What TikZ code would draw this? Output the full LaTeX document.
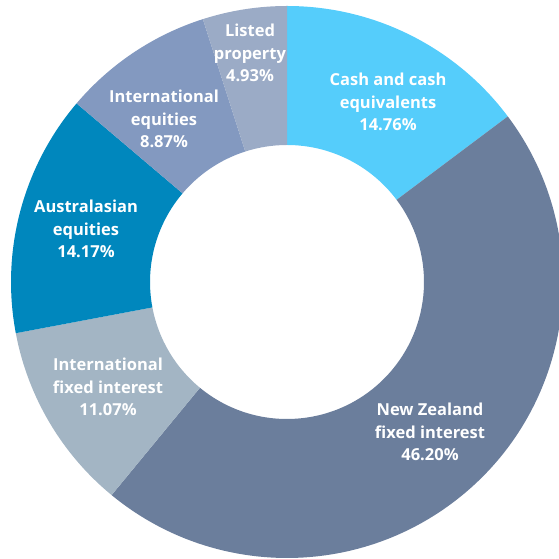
\documentclass[tikz,border=0pt]{standalone}
\usepackage{fontspec}
\setmainfont{Open Sans}[BoldFont={Open Sans Bold}]
\definecolor{cashc}{HTML}{55CDFB}
\definecolor{nzc}{HTML}{6B7E9C}
\definecolor{ifc}{HTML}{A3B5C4}
\definecolor{auc}{HTML}{0087BD}
\definecolor{iec}{HTML}{8399C0}
\definecolor{lpc}{HTML}{9BABC6}
\newcommand\donutseg[3]{\fill[#3] ([shift={(c)}]#1:276) arc[start angle=#1,end angle=#2,radius=276] -- ([shift={(c)}]#2:137) arc[start angle=#2,end angle=#1,radius=137] -- cycle;}
\begin{document}
\begin{tikzpicture}[x=1pt,y=1pt,
  lbl/.style={text=white,font=\fontsize{16.5}{22.8}\selectfont\bfseries,align=center,inner sep=0pt}]
\useasboundingbox (0,0) rectangle (559,559);
\clip (0,0) rectangle (559,559);
\coordinate (c) at (287,277);
\donutseg{90}{36.864}{cashc}
\donutseg{36.864}{-129.456}{nzc}
\donutseg{-129.456}{-169.308}{ifc}
\donutseg{-169.308}{-220.32}{auc}
\donutseg{-220.32}{-252.252}{iec}
\donutseg{-252.252}{-270}{lpc}
\node[lbl] (cash) at (388,457) {Cash and cash\\equivalents\\14.76\%};
\node[lbl] (nz) at (430,127) {New Zealand\\fixed interest\\46.20\%};
\node[lbl] (intfix) at (108,172) {International\\fixed interest\\11.07\%};
\node[lbl] (aus) at (86,330) {Australasian\\equities\\14.17\%};
\node[lbl] (inteq) at (164,440) {International\\equities\\8.87\%};
\node[lbl] (listed) at (250,506) {Listed\\property\\4.93\%};
\end{tikzpicture}
\end{document}
